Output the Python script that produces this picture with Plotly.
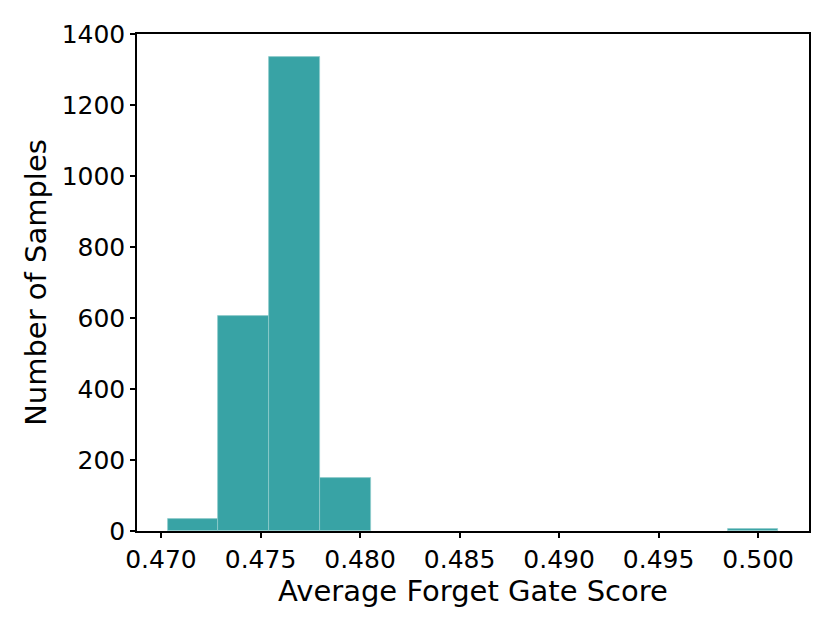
import numpy as np
import plotly.graph_objects as go

# histogram of average forget gate scores (12 bins)
bin_min = 0.47033
bin_max = 0.50102
counts = [35, 605, 1334, 149, 0, 0, 0, 0, 0, 0, 0, 5]
x_ticks = [0.470, 0.475, 0.480, 0.485, 0.490, 0.495, 0.500]
y_ticks = [0, 200, 400, 600, 800, 1000, 1200, 1400]

edges = np.linspace(bin_min, bin_max, len(counts) + 1)
centers = (edges[:-1] + edges[1:]) / 2
width = edges[1] - edges[0]

fig = go.Figure(
    go.Bar(
        x=centers,
        y=counts,
        width=width,
        marker=dict(
            color="#38A3A5",
            line=dict(color="#8FCBCC", width=[0.8 if c else 0 for c in counts]),
        ),
    )
)

axis_common = dict(
    showgrid=False,
    zeroline=False,
    showline=True,
    linecolor="black",
    linewidth=1.5,
    mirror=True,
    ticks="outside",
    ticklen=5,
    tickwidth=1.5,
    tickcolor="black",
    tickfont=dict(size=25, color="black"),
)

# page body adds 8px, so margins are shifted to keep the frame in place
span = bin_max - bin_min
fig.update_layout(
    width=830,
    height=627,
    font=dict(family="DejaVu Sans", color="black"),
    paper_bgcolor="white",
    plot_bgcolor="white",
    margin=dict(l=129, r=29, t=22, b=104),
    showlegend=False,
    bargap=0,
    xaxis=dict(
        axis_common,
        range=[bin_min - 0.05 * span, bin_max + 0.05 * span],
        tickvals=x_ticks,
        tickformat=".3f",
        title=dict(text="Average Forget Gate Score", font=dict(size=29), standoff=8),
    ),
    yaxis=dict(
        axis_common,
        range=[0, 1400],
        tickvals=y_ticks,
        title=dict(text="Number of Samples", font=dict(size=29), standoff=6),
    ),
)

fig.write_html("out.html")
